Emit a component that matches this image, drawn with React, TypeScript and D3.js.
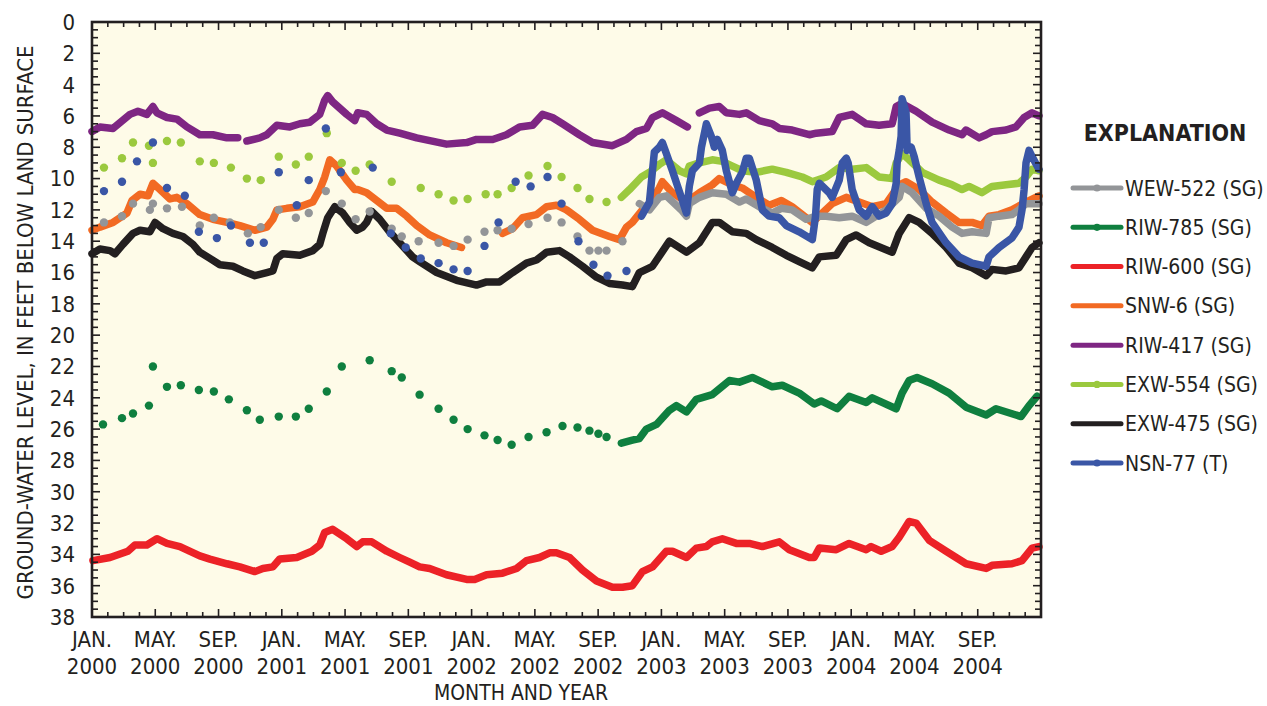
import React, { Component } from "react";
import * as d3 from "d3";

// time is decimal year, value is feet below land surface; null marks a gap in a record
type Pt = [number, number | null];

const monthNames = ["JAN.", "MAY.", "SEP."];
const years = [2000, 2001, 2002, 2003, 2004];
const depthTicks = [0, 2, 4, 6, 8, 10, 12, 14, 16, 18, 20, 22, 24, 26, 28, 30, 32, 34, 36, 38];

const wew522Dots: Pt[] = [
  [2000.063, 12.8], [2000.158, 12.4], [2000.216, 11.6], [2000.305, 12.0], [2000.321, 11.6],
  [2000.395, 11.9], [2000.474, 11.8], [2000.568, 13.0], [2000.642, 12.5], [2000.726, 12.8],
  [2000.821, 13.5], [2000.889, 13.1], [2000.984, 12.0], [2001.074, 12.5], [2001.142, 12.2],
  [2001.232, 10.8], [2001.316, 11.6], [2001.389, 12.6], [2001.463, 12.1], [2001.579, 13.2],
  [2001.632, 13.7], [2001.721, 14.0], [2001.826, 14.1], [2001.905, 14.3], [2001.979, 13.9],
  [2002.068, 13.4], [2002.137, 13.3], [2002.211, 13.2], [2002.300, 12.9], [2002.400, 12.5],
  [2002.474, 12.8], [2002.558, 13.7], [2002.621, 14.6], [2002.668, 14.6], [2002.711, 14.6],
  [2002.795, 14.0]
];
const wew522Line: Pt[] = [
  [2002.884, 11.6], [2002.937, 12.0], [2002.989, 11.2], [2003.026, 11.1], [2003.105, 12.0],
  [2003.132, 12.4], [2003.147, 11.6], [2003.200, 11.2], [2003.268, 10.9], [2003.342, 11.0],
  [2003.411, 11.5], [2003.447, 11.3], [2003.516, 11.8], [2003.584, 12.2], [2003.632, 11.9],
  [2003.689, 12.0], [2003.763, 12.6], [2003.816, 12.4], [2003.868, 12.4], [2003.937, 12.5],
  [2004.005, 12.4], [2004.079, 12.8], [2004.184, 12.0], [2004.253, 11.2], [2004.268, 10.5],
  [2004.321, 10.9], [2004.395, 11.9], [2004.463, 12.4], [2004.532, 13.1], [2004.584, 13.5],
  [2004.637, 13.4], [2004.711, 13.5], [2004.726, 12.5], [2004.779, 12.4], [2004.847, 12.3],
  [2004.884, 12.0], [2004.921, 11.6], [2004.989, 11.6]
];

const riw785Dots: Pt[] = [
  [2000.058, 25.7], [2000.158, 25.3], [2000.216, 25.0], [2000.300, 24.5], [2000.321, 22.0],
  [2000.395, 23.3], [2000.468, 23.2], [2000.563, 23.5], [2000.642, 23.6], [2000.721, 24.1],
  [2000.816, 24.8], [2000.884, 25.4], [2000.984, 25.2], [2001.074, 25.2], [2001.142, 24.7],
  [2001.237, 23.6], [2001.316, 22.0], [2001.463, 21.6], [2001.579, 22.3], [2001.632, 22.7],
  [2001.726, 23.8], [2001.826, 24.7], [2001.905, 25.4], [2001.979, 26.0], [2002.068, 26.4],
  [2002.137, 26.7], [2002.211, 27.0], [2002.300, 26.5], [2002.395, 26.2], [2002.479, 25.8],
  [2002.558, 25.9], [2002.621, 26.1], [2002.668, 26.3], [2002.711, 26.5]
];
const riw785Line: Pt[] = [
  [2002.789, 26.9], [2002.847, 26.7], [2002.884, 26.6], [2002.921, 26.0], [2002.974, 25.7],
  [2003.042, 24.8], [2003.079, 24.5], [2003.132, 24.9], [2003.184, 24.1], [2003.268, 23.8],
  [2003.358, 22.9], [2003.411, 23.0], [2003.479, 22.7], [2003.584, 23.3], [2003.637, 23.2],
  [2003.726, 23.7], [2003.805, 24.4], [2003.842, 24.2], [2003.926, 24.7], [2003.989, 23.9],
  [2004.079, 24.3], [2004.111, 24.0], [2004.237, 24.7], [2004.268, 23.7], [2004.305, 22.9],
  [2004.347, 22.7], [2004.426, 23.1], [2004.516, 23.7], [2004.605, 24.6], [2004.711, 25.1],
  [2004.763, 24.7], [2004.895, 25.2], [2004.937, 24.5], [2004.979, 23.9]
];

const riw600: Pt[] = [
  [2000.005, 34.4], [2000.095, 34.2], [2000.189, 33.8], [2000.226, 33.4], [2000.289, 33.4],
  [2000.342, 33.0], [2000.395, 33.3], [2000.463, 33.5], [2000.568, 34.1], [2000.621, 34.3],
  [2000.711, 34.6], [2000.779, 34.8], [2000.858, 35.1], [2000.900, 34.9], [2000.953, 34.8],
  [2000.989, 34.3], [2001.079, 34.2], [2001.158, 33.8], [2001.200, 33.4], [2001.226, 32.6],
  [2001.268, 32.4], [2001.342, 33.0], [2001.395, 33.5], [2001.426, 33.2], [2001.474, 33.2],
  [2001.553, 33.8], [2001.621, 34.2], [2001.674, 34.5], [2001.726, 34.8], [2001.779, 34.9],
  [2001.868, 35.3], [2001.974, 35.6], [2002.016, 35.6], [2002.079, 35.3], [2002.163, 35.2],
  [2002.237, 34.9], [2002.289, 34.4], [2002.358, 34.2], [2002.411, 33.9], [2002.447, 33.9],
  [2002.516, 34.2], [2002.584, 35.0], [2002.658, 35.7], [2002.742, 36.1], [2002.795, 36.1],
  [2002.847, 36.0], [2002.900, 35.1], [2002.953, 34.8], [2003.026, 33.8], [2003.058, 33.8],
  [2003.132, 34.2], [2003.184, 33.6], [2003.237, 33.5], [2003.268, 33.2], [2003.321, 33.0],
  [2003.395, 33.3], [2003.463, 33.3], [2003.532, 33.5], [2003.621, 33.2], [2003.674, 33.7],
  [2003.779, 34.2], [2003.805, 34.2], [2003.832, 33.6], [2003.921, 33.7], [2003.989, 33.3],
  [2004.079, 33.7], [2004.105, 33.5], [2004.158, 33.8], [2004.216, 33.5], [2004.253, 32.9],
  [2004.305, 31.9], [2004.342, 32.0], [2004.411, 33.1], [2004.500, 33.8], [2004.605, 34.6],
  [2004.711, 34.9], [2004.742, 34.7], [2004.847, 34.6], [2004.900, 34.4], [2004.953, 33.6],
  [2004.989, 33.5]
];

const snw6: Pt[] = [
  [2000.000, 13.3], [2000.042, 13.1], [2000.111, 12.8], [2000.184, 12.2], [2000.211, 11.4],
  [2000.253, 11.0], [2000.295, 11.1], [2000.321, 10.3], [2000.358, 10.7], [2000.411, 11.3],
  [2000.447, 11.2], [2000.500, 11.6], [2000.568, 12.3], [2000.637, 12.6], [2000.711, 12.8],
  [2000.779, 13.0], [2000.858, 13.3], [2000.921, 13.1], [2000.953, 12.6], [2000.974, 12.0],
  [2001.026, 11.9], [2001.095, 11.8], [2001.163, 11.5], [2001.200, 10.7], [2001.226, 9.9],
  [2001.253, 8.8], [2001.289, 9.2], [2001.342, 10.1], [2001.384, 10.7], [2001.400, 10.7],
  [2001.447, 10.9], [2001.500, 11.4], [2001.553, 11.9], [2001.605, 11.9], [2001.658, 12.4],
  [2001.711, 13.0], [2001.779, 13.6], [2001.868, 14.1], [2001.947, 14.4], [2002.050, null],
  [2002.163, 13.5], [2002.216, 13.2], [2002.268, 12.5], [2002.342, 12.3], [2002.395, 11.8],
  [2002.447, 11.7], [2002.500, 12.0], [2002.568, 12.6], [2002.637, 13.3], [2002.726, 13.7],
  [2002.779, 13.9], [2002.816, 13.1], [2002.847, 12.8], [2002.900, 12.0], [2002.937, 11.6],
  [2002.989, 10.6], [2003.005, 10.2], [2003.058, 10.9], [2003.132, 11.5], [2003.200, 10.9],
  [2003.268, 10.4], [2003.305, 10.0], [2003.374, 10.4], [2003.426, 10.6], [2003.500, 11.2],
  [2003.568, 11.7], [2003.632, 11.4], [2003.689, 11.8], [2003.795, 12.8], [2003.900, 11.6],
  [2003.974, 11.2], [2004.042, 11.5], [2004.111, 11.8], [2004.184, 11.6], [2004.253, 10.4],
  [2004.289, 10.2], [2004.358, 10.7], [2004.426, 11.5], [2004.500, 12.2], [2004.568, 12.8],
  [2004.637, 12.8], [2004.689, 13.0], [2004.726, 12.4], [2004.779, 12.3], [2004.847, 12.0],
  [2004.921, 11.5], [2004.989, 11.1]
];

const riw417: Pt[] = [
  [2000.000, 7.0], [2000.042, 6.7], [2000.111, 6.8], [2000.200, 5.9], [2000.242, 5.7],
  [2000.289, 5.9], [2000.321, 5.4], [2000.342, 5.8], [2000.395, 6.1], [2000.447, 6.2],
  [2000.500, 6.7], [2000.568, 7.2], [2000.637, 7.2], [2000.711, 7.4], [2000.768, 7.4],
  [2000.790, null], [2000.816, 7.6], [2000.884, 7.4], [2000.921, 7.2], [2000.974, 6.6],
  [2001.042, 6.7], [2001.095, 6.5], [2001.147, 6.4], [2001.200, 5.9], [2001.226, 5.0],
  [2001.242, 4.7], [2001.268, 5.1], [2001.342, 5.9], [2001.384, 6.3], [2001.400, 5.8],
  [2001.447, 5.9], [2001.500, 6.5], [2001.553, 6.9], [2001.621, 7.1], [2001.711, 7.4],
  [2001.868, 7.8], [2001.974, 7.7], [2002.026, 7.5], [2002.111, 7.5], [2002.184, 7.2],
  [2002.253, 6.7], [2002.321, 6.6], [2002.374, 5.9], [2002.426, 6.1], [2002.479, 6.5],
  [2002.568, 7.2], [2002.637, 7.7], [2002.742, 7.9], [2002.816, 7.5], [2002.868, 7.0],
  [2002.921, 6.8], [2002.953, 6.1], [2003.005, 5.8], [2003.079, 6.3], [2003.137, 6.7],
  [2003.170, null], [2003.200, 5.8], [2003.253, 5.5], [2003.305, 5.4], [2003.342, 5.8],
  [2003.411, 5.9], [2003.447, 5.8], [2003.516, 6.3], [2003.584, 6.5], [2003.621, 6.8],
  [2003.689, 6.9], [2003.779, 7.2], [2003.816, 7.1], [2003.900, 7.0], [2003.937, 6.1],
  [2004.005, 5.9], [2004.079, 6.5], [2004.147, 6.6], [2004.216, 6.5], [2004.237, 5.4],
  [2004.268, 5.2], [2004.342, 5.7], [2004.426, 6.4], [2004.516, 6.9], [2004.584, 7.2],
  [2004.605, 6.9], [2004.674, 7.4], [2004.711, 7.2], [2004.742, 7.0], [2004.816, 6.9],
  [2004.868, 6.7], [2004.911, 6.1], [2004.953, 5.8], [2004.989, 6.0]
];

const exw554Dots: Pt[] = [
  [2000.063, 9.3], [2000.158, 8.7], [2000.216, 7.7], [2000.300, 7.9], [2000.321, 9.0],
  [2000.395, 7.6], [2000.468, 7.7], [2000.568, 8.9], [2000.642, 9.0], [2000.732, 9.3],
  [2000.816, 10.0], [2000.889, 10.1], [2000.984, 8.6], [2001.074, 9.1], [2001.142, 8.6],
  [2001.237, 7.1], [2001.316, 9.0], [2001.389, 9.5], [2001.463, 9.1], [2001.579, 10.2],
  [2001.732, 10.6], [2001.826, 11.0], [2001.905, 11.4], [2001.979, 11.3], [2002.074, 11.0],
  [2002.137, 11.0], [2002.211, 10.6], [2002.300, 9.8], [2002.400, 9.2], [2002.474, 9.9],
  [2002.558, 10.6], [2002.621, 11.3], [2002.711, 11.5]
];
const exw554Line: Pt[] = [
  [2002.789, 11.2], [2002.832, 10.7], [2002.895, 9.9], [2002.937, 9.6], [2002.989, 9.1],
  [2003.026, 8.8], [2003.095, 9.5], [2003.132, 9.7], [2003.147, 9.2], [2003.200, 9.0],
  [2003.268, 8.8], [2003.321, 8.9], [2003.374, 9.2], [2003.426, 9.5], [2003.500, 9.6],
  [2003.584, 9.4], [2003.658, 9.6], [2003.742, 9.9], [2003.795, 10.2], [2003.868, 9.9],
  [2003.937, 9.3], [2004.005, 9.4], [2004.079, 9.3], [2004.147, 9.9], [2004.216, 10.0],
  [2004.237, 9.0], [2004.268, 8.4], [2004.305, 8.8], [2004.374, 9.6], [2004.463, 10.1],
  [2004.532, 10.4], [2004.584, 10.7], [2004.621, 10.5], [2004.689, 10.9], [2004.742, 10.5],
  [2004.816, 10.4], [2004.884, 10.3], [2004.921, 9.9], [2004.953, 9.4], [2004.989, 9.5]
];

const exw475: Pt[] = [
  [2000.000, 14.8], [2000.042, 14.5], [2000.095, 14.6], [2000.121, 14.8], [2000.163, 14.2],
  [2000.216, 13.5], [2000.253, 13.3], [2000.305, 13.4], [2000.332, 12.8], [2000.374, 13.2],
  [2000.426, 13.5], [2000.479, 13.7], [2000.532, 14.2], [2000.568, 14.7], [2000.621, 15.1],
  [2000.674, 15.5], [2000.742, 15.6], [2000.795, 15.9], [2000.858, 16.2], [2000.921, 16.0],
  [2000.953, 15.9], [2000.974, 15.1], [2001.005, 14.8], [2001.095, 14.9], [2001.163, 14.6],
  [2001.200, 14.2], [2001.216, 13.5], [2001.242, 12.5], [2001.279, 11.8], [2001.321, 12.2],
  [2001.358, 12.8], [2001.395, 13.3], [2001.426, 13.1], [2001.447, 12.8], [2001.474, 12.1],
  [2001.516, 12.6], [2001.568, 13.4], [2001.621, 14.1], [2001.689, 15.0], [2001.726, 15.3],
  [2001.816, 16.0], [2001.921, 16.5], [2002.026, 16.8], [2002.079, 16.6], [2002.147, 16.6],
  [2002.216, 16.0], [2002.289, 15.4], [2002.342, 15.2], [2002.395, 14.7], [2002.463, 14.6],
  [2002.516, 15.0], [2002.584, 15.6], [2002.658, 16.3], [2002.726, 16.7], [2002.795, 16.8],
  [2002.847, 16.9], [2002.884, 16.0], [2002.953, 15.6], [2003.042, 14.0], [2003.132, 14.7],
  [2003.200, 14.1], [2003.268, 12.8], [2003.305, 12.8], [2003.374, 13.4], [2003.447, 13.5],
  [2003.500, 13.9], [2003.584, 14.4], [2003.658, 14.9], [2003.726, 15.3], [2003.795, 15.7],
  [2003.832, 15.0], [2003.921, 14.9], [2003.974, 13.9], [2004.026, 13.6], [2004.095, 14.1],
  [2004.216, 14.7], [2004.253, 13.5], [2004.305, 12.5], [2004.358, 12.8], [2004.426, 13.5],
  [2004.500, 14.4], [2004.568, 15.4], [2004.637, 15.7], [2004.711, 16.2], [2004.742, 15.8],
  [2004.816, 15.9], [2004.884, 15.7], [2004.921, 15.0], [2004.953, 14.4], [2004.989, 14.1]
];

const nsn77Dots: Pt[] = [
  [2000.063, 10.8], [2000.158, 10.2], [2000.237, 8.9], [2000.321, 7.7], [2000.395, 10.6],
  [2000.489, 11.1], [2000.563, 13.4], [2000.658, 13.8], [2000.732, 13.0], [2000.832, 14.1],
  [2000.905, 14.1], [2000.984, 9.6], [2001.079, 11.7], [2001.142, 10.1], [2001.232, 6.8],
  [2001.311, 9.6], [2001.479, 9.3], [2001.574, 13.5], [2001.653, 14.4], [2001.732, 15.1],
  [2001.826, 15.4], [2001.905, 15.8], [2001.979, 15.9], [2002.068, 14.3], [2002.142, 12.8],
  [2002.232, 10.2], [2002.311, 10.5], [2002.400, 9.9], [2002.474, 11.6], [2002.563, 14.0],
  [2002.642, 15.5], [2002.716, 16.2], [2002.816, 15.9]
];
const nsn77Line: Pt[] = [
  [2002.895, 12.4], [2002.937, 11.5], [2002.953, 9.5], [2002.963, 8.3], [2002.989, 8.0],
  [2003.005, 7.7], [2003.026, 8.4], [2003.058, 9.5], [2003.105, 11.2], [2003.132, 12.2],
  [2003.147, 10.5], [2003.163, 9.5], [2003.200, 9.0], [2003.211, 8.0], [2003.237, 6.5],
  [2003.263, 7.3], [2003.279, 8.0], [2003.295, 7.5], [2003.321, 8.2], [2003.342, 9.5],
  [2003.374, 10.9], [2003.395, 10.3], [2003.426, 9.6], [2003.447, 8.7], [2003.463, 8.7],
  [2003.500, 10.1], [2003.532, 12.0], [2003.568, 12.4], [2003.621, 12.5], [2003.658, 13.0],
  [2003.726, 13.4], [2003.795, 13.9], [2003.812, 12.4], [2003.821, 10.7], [2003.832, 10.3],
  [2003.884, 10.9], [2003.900, 11.2], [2003.937, 10.1], [2003.953, 9.0], [2003.974, 8.7],
  [2003.984, 9.0], [2004.005, 10.7], [2004.042, 12.0], [2004.079, 12.4], [2004.111, 11.8],
  [2004.147, 12.4], [2004.184, 12.2], [2004.216, 11.6], [2004.237, 10.3], [2004.242, 9.0],
  [2004.253, 8.2], [2004.263, 7.3], [2004.268, 4.9], [2004.289, 5.8], [2004.295, 8.2],
  [2004.316, 8.0], [2004.332, 8.6], [2004.358, 9.9], [2004.395, 11.6], [2004.426, 12.8],
  [2004.500, 14.1], [2004.568, 15.0], [2004.637, 15.4], [2004.711, 15.6], [2004.726, 15.0],
  [2004.779, 14.4], [2004.847, 13.8], [2004.884, 13.1], [2004.900, 12.0], [2004.911, 10.7],
  [2004.921, 9.0], [2004.937, 8.2], [2004.953, 8.6], [2004.989, 9.4]
];

const legendNames = [
  "WEW-522 (SG)", "RIW-785 (SG)", "RIW-600 (SG)", "SNW-6 (SG)",
  "RIW-417 (SG)", "EXW-554 (SG)", "EXW-475 (SG)", "NSN-77 (T)"
];

const FONT = "'Liberation Sans Narrow', 'Arial Narrow', 'DejaVu Sans Condensed', sans-serif";

class App extends Component {
  myRef = React.createRef<HTMLDivElement>();

  componentDidMount() {
    document.body.style.margin = "0";
    this.drawChart();
  }

  drawChart() {
    const width = 1267;
    const height = 706;
    const left = 92, top = 22, right = 1041, bottom = 617;
    const ink = "#231F20";

    const root = d3.select(this.myRef.current);
    root.selectAll("*").remove();
    const svg = root.append("svg")
      .attr("width", width)
      .attr("height", height)
      .style("display", "block")
      .style("font-family", FONT);

    const x = d3.scaleLinear().domain([2000, 2005]).range([left, right]);
    const y = d3.scaleLinear().domain([0, 38]).range([top, bottom]);

    svg.append("rect")
      .attr("x", left).attr("y", top)
      .attr("width", right - left).attr("height", bottom - top)
      .attr("fill", "#FEFBE8");

    const series = [
      { name: "RIW-600 (SG)", color: "#EC2227", line: riw600, dots: [] as Pt[], mark: false },
      { name: "RIW-785 (SG)", color: "#0F7F3F", line: riw785Line, dots: riw785Dots, mark: true },
      { name: "EXW-475 (SG)", color: "#231F20", line: exw475, dots: [] as Pt[], mark: false },
      { name: "RIW-417 (SG)", color: "#7E2683", line: riw417, dots: [] as Pt[], mark: false },
      { name: "SNW-6 (SG)", color: "#F26A23", line: snw6, dots: [] as Pt[], mark: false },
      { name: "WEW-522 (SG)", color: "#939598", line: wew522Line, dots: wew522Dots, mark: true },
      { name: "EXW-554 (SG)", color: "#9BC93E", line: exw554Line, dots: exw554Dots, mark: true },
      { name: "NSN-77 (T)", color: "#3A56A6", line: nsn77Line, dots: nsn77Dots, mark: true }
    ];

    const line = d3.line<Pt>()
      .defined(d => d[1] != null)
      .x(d => x(d[0]))
      .y(d => y(d[1] as number));

    const plot = svg.append("g");
    series.forEach(s => {
      plot.append("path")
        .datum(s.line)
        .attr("d", line)
        .attr("fill", "none")
        .attr("stroke", s.color)
        .attr("stroke-width", 7.5)
        .attr("stroke-linejoin", "round")
        .attr("stroke-linecap", "round");
      plot.selectAll(null)
        .data(s.dots)
        .enter().append("circle")
        .attr("cx", d => x(d[0]))
        .attr("cy", d => y(d[1] as number))
        .attr("r", 4.2)
        .attr("fill", s.color);
    });

    // ticks on all four sides, pointing inward
    const months = d3.range(0, 61).map(m => 2000 + m / 12);
    const halfFeet = d3.range(0, 38.01, 0.5);
    const tickG = svg.append("g").attr("stroke", ink).attr("stroke-width", 1.6);
    tickG.selectAll(null).data(months).enter().append("line")
      .attr("x1", d => x(d)).attr("x2", d => x(d))
      .attr("y1", bottom).attr("y2", (d, i) => bottom - (i % 4 === 0 ? 8 : 5));
    tickG.selectAll(null).data(months).enter().append("line")
      .attr("x1", d => x(d)).attr("x2", d => x(d))
      .attr("y1", top).attr("y2", (d, i) => top + (i % 4 === 0 ? 8 : 5));
    tickG.selectAll(null).data(halfFeet).enter().append("line")
      .attr("y1", d => y(d)).attr("y2", d => y(d))
      .attr("x1", left).attr("x2", d => left + (d % 2 === 0 ? 8 : 6));
    tickG.selectAll(null).data(halfFeet).enter().append("line")
      .attr("y1", d => y(d)).attr("y2", d => y(d))
      .attr("x1", right).attr("x2", d => right - (d % 2 === 0 ? 8 : 6));

    svg.append("rect")
      .attr("x", left).attr("y", top)
      .attr("width", right - left).attr("height", bottom - top)
      .attr("fill", "none")
      .attr("stroke", ink)
      .attr("stroke-width", 2.6);

    // y labels
    svg.append("g").selectAll("text")
      .data(depthTicks)
      .enter().append("text")
      .attr("x", 75)
      .attr("y", d => y(d))
      .attr("dy", "0.36em")
      .attr("text-anchor", "end")
      .attr("font-size", 22)
      .attr("fill", ink)
      .text(d => d);

    // x labels, two lines each
    const labelTimes = d3.range(0, 60, 4).map(m => 2000 + m / 12);
    const xl = svg.append("g").selectAll("text")
      .data(labelTimes)
      .enter().append("text")
      .attr("text-anchor", "middle")
      .attr("font-size", 22)
      .attr("fill", ink);
    xl.append("tspan")
      .attr("x", d => x(d))
      .attr("y", 647)
      .text((d, i) => monthNames[i % 3]);
    xl.append("tspan")
      .attr("x", d => x(d))
      .attr("y", 674)
      .text((d, i) => years[Math.floor(i / 3)]);

    svg.append("text")
      .attr("x", 521).attr("y", 700)
      .attr("text-anchor", "middle")
      .attr("font-size", 21)
      .attr("fill", ink)
      .text("MONTH AND YEAR");

    svg.append("text")
      .attr("transform", `translate(33, ${(top + bottom) / 2 + 3}) rotate(-90)`)
      .attr("text-anchor", "middle")
      .attr("font-size", 22)
      .attr("fill", ink)
      .text("GROUND-WATER LEVEL, IN FEET BELOW LAND SURFACE");

    // legend
    const legend = svg.append("g");
    legend.append("text")
      .attr("x", 1165).attr("y", 141)
      .attr("text-anchor", "middle")
      .attr("font-size", 23)
      .attr("font-weight", "bold")
      .attr("fill", ink)
      .text("EXPLANATION");

    const ly = d3.scalePoint().domain(legendNames).range([188, 463]);
    const byName = new Map(series.map(s => [s.name, s]));
    legendNames.forEach(name => {
      const s = byName.get(name)!;
      const yy = ly(name) as number;
      legend.append("line")
        .attr("x1", 1073).attr("x2", 1121)
        .attr("y1", yy).attr("y2", yy)
        .attr("stroke", s.color)
        .attr("stroke-width", 5)
        .attr("stroke-linecap", "round");
      if (s.mark) {
        legend.append("circle")
          .attr("cx", 1097).attr("cy", yy).attr("r", 3.6)
          .attr("fill", s.color);
      }
      legend.append("text")
        .attr("x", 1125).attr("y", yy)
        .attr("dy", "0.36em")
        .attr("font-size", 21)
        .attr("fill", ink)
        .text(name);
    });
  }

  render() {
    return <div ref={this.myRef}></div>;
  }
}

export default App;
